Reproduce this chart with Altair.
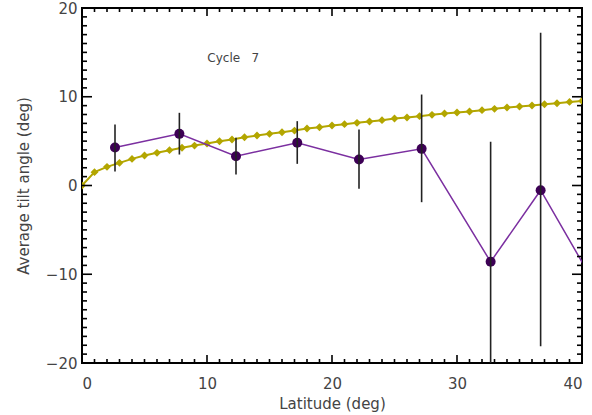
import altair as alt
import pandas as pd

# Model curve (olive diamonds)
model_lat = list(range(0, 41))
model_tilt = [0.0, 1.5, 2.1, 2.55, 3.0, 3.38, 3.68, 3.98, 4.25, 4.5, 4.73, 4.99, 5.18, 5.44,
              5.63, 5.82, 6.0, 6.19, 6.42, 6.57, 6.76, 6.91, 7.06, 7.21, 7.36, 7.55, 7.66,
              7.81, 7.96, 8.11, 8.22, 8.34, 8.49, 8.64, 8.79, 8.9, 9.01, 9.16, 9.27, 9.42, 9.53]

# Observed binned tilts (purple) with error bars
obs_lat = [2.64, 7.79, 12.32, 17.22, 22.16, 27.17, 32.69, 36.69, 42.0]
obs_tilt = [4.28, 5.82, 3.30, 4.81, 2.93, 4.13, -8.6, -0.53, -13.5]
err_hi = [6.87, 8.19, 5.37, 7.25, 6.31, 10.25, 4.92, 17.2, -8.0]
err_lo = [1.58, 3.49, 1.24, 2.44, -0.37, -1.88, -24.0, -18.1, -19.0]

x_ticks = [0, 10, 20, 30, 40]
y_ticks = [-20, -10, 0, 10, 20]
x_minor = [v for v in range(0, 41) if v % 10 != 0]
y_minor = [v for v in range(-20, 21) if v % 10 != 0]

W, H = 500, 355
xs = alt.Scale(domain=[0, 40], nice=False, zero=False)
ys = alt.Scale(domain=[-20, 20], nice=False, zero=False)

model = pd.DataFrame({"lat": model_lat, "tilt": model_tilt})
obs = pd.DataFrame({"lat": obs_lat, "tilt": obs_tilt, "hi": err_hi, "lo": err_lo})

OLIVE = "#b3a600"
font = "DejaVu Sans"

xaxis = alt.Axis(values=x_ticks, ticks=False, domain=False, grid=False, labelFontSize=15,
                 labelColor="#444", labelFont=font, labelPadding=13, titleFont=font,
                 titleFontSize=15, titleColor="#444", titleFontWeight="normal", titlePadding=5)
yaxis = alt.Axis(values=y_ticks, ticks=False, domain=False, grid=False, labelFontSize=15,
                 labelColor="#444", labelFont=font, labelPadding=5, titleFont=font,
                 titleFontSize=15, titleColor="#444", titleFontWeight="normal", titlePadding=14,
                 labelExpr="replace(datum.label, '-', '\u2212')")

base_m = alt.Chart(model)
model_line = base_m.mark_line(color=OLIVE, strokeWidth=2, clip=True).encode(
    x=alt.X("lat:Q", scale=xs, axis=xaxis, title="Latitude (deg)"),
    y=alt.Y("tilt:Q", scale=ys, axis=yaxis, title="Average tilt angle (deg)"))
model_pts = base_m.mark_point(shape="diamond", filled=True, color=OLIVE, size=62, opacity=1, clip=True).encode(
    x=alt.X("lat:Q", scale=xs), y=alt.Y("tilt:Q", scale=ys))

base_o = alt.Chart(obs)
obs_line = base_o.mark_line(color="#7b2fa0", strokeWidth=1.5, clip=True).encode(
    x=alt.X("lat:Q", scale=xs), y=alt.Y("tilt:Q", scale=ys))
obs_pts = base_o.mark_point(shape="circle", filled=True, color="#3d0055", size=100, opacity=1, clip=True).encode(
    x=alt.X("lat:Q", scale=xs), y=alt.Y("tilt:Q", scale=ys))
err = base_o.mark_rule(color="#222", strokeWidth=1.6, clip=True).encode(
    x=alt.X("lat:Q", scale=xs), y=alt.Y("lo:Q", scale=ys), y2="hi:Q")

label = alt.Chart(pd.DataFrame({"lat": [12.1], "tilt": [14.4], "t": ["Cycle\u00a0\u00a0\u00a07"]})).mark_text(
    font=font, fontSize=12, color="#444").encode(
    x=alt.X("lat:Q", scale=xs), y=alt.Y("tilt:Q", scale=ys), text="t:N")

def xtick(vals, top, length):
    d = pd.DataFrame({"v": vals})
    if top:
        y1, y2 = 0, length
    else:
        y1, y2 = H, H - length
    return alt.Chart(d).mark_rule(color="black", strokeWidth=1.6).encode(
        x=alt.X("v:Q", scale=xs), y=alt.value(y1), y2=alt.value(y2))

def ytick(vals, right, length):
    d = pd.DataFrame({"v": vals})
    if right:
        x1, x2 = W, W - length
    else:
        x1, x2 = 0, length
    return alt.Chart(d).mark_rule(color="black", strokeWidth=1.6).encode(
        y=alt.Y("v:Q", scale=ys), x=alt.value(x1), x2=alt.value(x2))

ticks = [xtick(x_ticks, False, 8), xtick(x_minor, False, 4),
         xtick(x_ticks, True, 8), xtick(x_minor, True, 4),
         ytick(y_ticks, False, 10), ytick(y_minor, False, 5),
         ytick(y_ticks, True, 10), ytick(y_minor, True, 5)]

chart = alt.layer(model_line, model_pts, obs_line, obs_pts, err, label, *ticks).properties(
    width=W, height=H,
    autosize=alt.AutoSizeParams(type="none"),
    padding={"left": 82, "top": 8, "right": 10, "bottom": 52},
    background="white",
).configure_view(stroke="black", strokeWidth=2)

chart.save("out.html", embed_options={"renderer": "svg", "actions": False})
